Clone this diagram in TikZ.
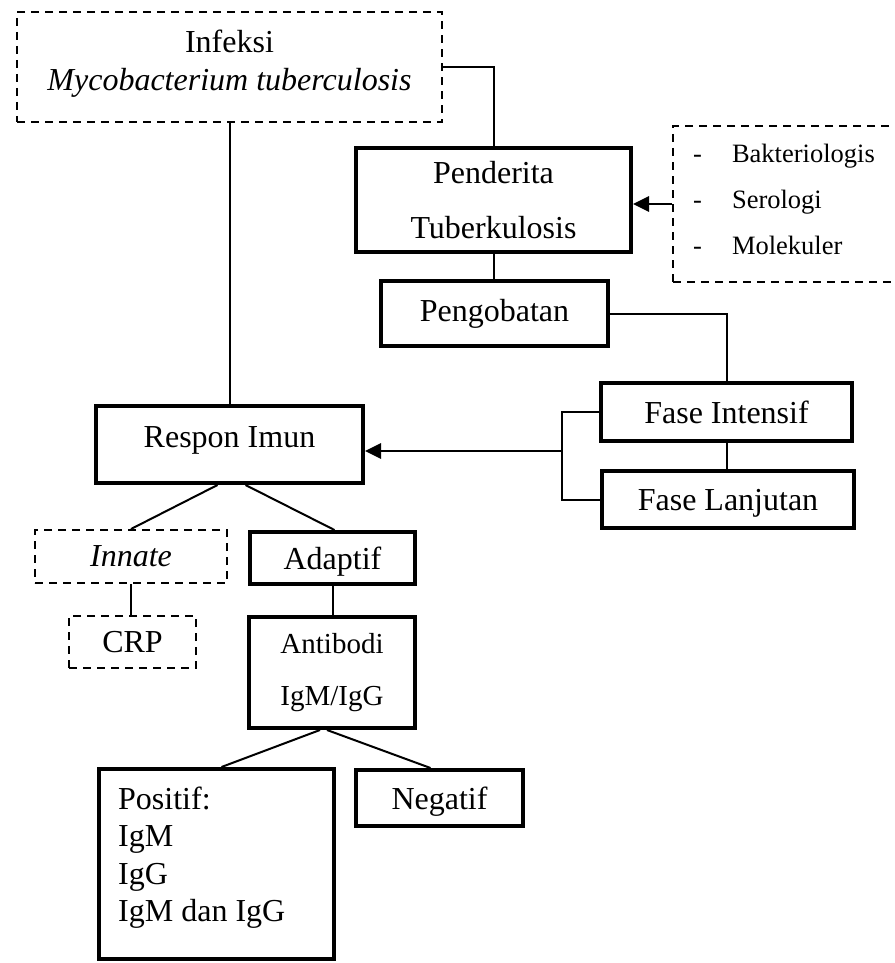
\documentclass[tikz,border=0pt]{standalone}
\usepackage{fontspec}
\setmainfont{Liberation Serif}
\usetikzlibrary{arrows.meta}
\begin{document}
\begin{tikzpicture}[x=1pt,y=-1pt,
  thickbox/.style={draw, line width=4pt, inner sep=0pt, font=\fontsize{32}{38}\selectfont},
  dbox/.style={draw, line width=2pt, dash pattern=on 8pt off 6pt, inner sep=0pt, font=\fontsize{32}{38}\selectfont},
  conn/.style={line width=2pt},
  arr/.style={line width=2.8pt, -{Triangle[length=16pt,width=15pt]}},
  txt/.style={inner sep=0pt, font=\fontsize{32}{38}\selectfont}
]
\useasboundingbox (0,0) rectangle (894,963);

% top dashed box
\node[dbox, minimum width=425pt, minimum height=110pt] (inf) at (229.5,67) {};
\node[txt, align=center, font=\fontsize{32}{38}\selectfont] (inftxt) at (229.5,64) {Infeksi\\\textit{Mycobacterium tuberculosis}};

% right branch
\node[thickbox, minimum width=275pt, minimum height=104pt, align=center, font=\fontsize{32}{55}\selectfont] (pen) at (493.5,200) {Penderita\\Tuberkulosis};
\node[dbox, minimum width=240pt, minimum height=156pt] (rb) at (793,204) {};
\node[txt, anchor=north west, align=left, font=\fontsize{26.5}{46}\selectfont] (rbtxt) at (693,144) {-\hspace{30pt}Bakteriologis\\-\hspace{30pt}Serologi\\-\hspace{30pt}Molekuler};
\node[thickbox, minimum width=227pt, minimum height=65pt] (peng) at (494.5,313.5) {Pengobatan};
\node[thickbox, minimum width=251pt, minimum height=58pt] (fi) at (726.5,412) {Fase Intensif};
\node[thickbox, minimum width=252pt, minimum height=57pt, text depth=0pt] (fl) at (728,499.5) {Fase Lanjutan};

% immune branch
\node[thickbox, minimum width=267pt, minimum height=77pt] (resp) at (229.5,444.5) {};
\node[txt] (resptxt) at (229.5,440.5) {Respon Imun};
\node[dbox, minimum width=192pt, minimum height=53pt] (inn) at (131,556.5) {\textit{Innate}};
\node[dbox, minimum width=127pt, minimum height=52pt] (crp) at (132.5,642) {CRP};
\node[thickbox, minimum width=165pt, minimum height=52pt, text depth=0pt] (ad) at (332.5,558) {Adaptif};
\node[thickbox, minimum width=166pt, minimum height=111pt, align=center, font=\fontsize{29}{52}\selectfont] (ab) at (332,672.5) {Antibodi\\IgM/IgG};
\node[thickbox, minimum width=235pt, minimum height=190pt] (pos) at (216.5,864) {};
\node[txt, anchor=north west, align=left, font=\fontsize{32}{37.5}\selectfont] (postxt) at (118,786.5) {Positif:\\IgM\\IgG\\IgM dan IgG};
\node[thickbox, minimum width=167pt, minimum height=56pt, text depth=0pt] (neg) at (439.5,798) {Negatif};

% connectors
\draw[conn] (inf.east) -| (pen.north);
\draw[conn] (inf.south) -- (resp.north);
\draw[conn] (pen.south) -- (pen.south |- peng.north);
\draw[conn] (peng.east) -| (fi.north);
\draw[conn] (fi.south) -- (fi.south |- fl.north);
\draw[conn] (fi.west) -- ++(-37,0) |- (fl.west);
\coordinate (brk) at (562,451);
\draw[arr] (brk) -- (brk -| resp.east);
\draw[arr] (rb.west) -- (rb.west -| pen.east);
\draw[conn] ([xshift=-12pt]resp.south) -- (inn.north);
\draw[conn] ([xshift=16pt]resp.south) -- ([xshift=2pt]ad.north);
\draw[conn] (inn.south) -- (inn.south |- crp.north);
\draw[conn] (ad.south) -- (ad.south |- ab.north);
\draw[conn] ([xshift=-12pt]ab.south) -- ([xshift=5pt]pos.north);
\draw[conn] ([xshift=-5pt]ab.south) -- ([xshift=-9pt]neg.north);
\end{tikzpicture}
\end{document}
